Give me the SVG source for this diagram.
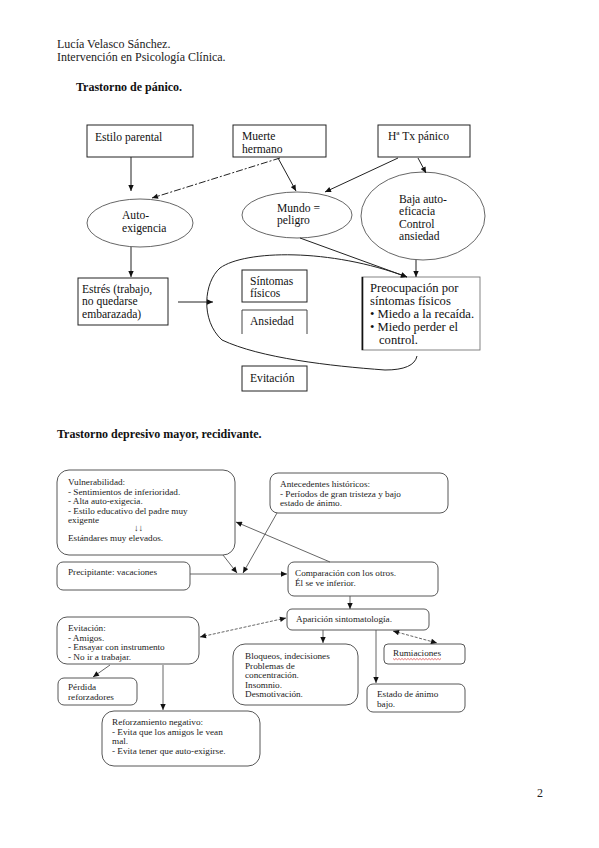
<svg xmlns="http://www.w3.org/2000/svg" width="599" height="848" viewBox="0 0 599 848">
<style>
text{font-family:"Liberation Serif","Times New Roman",serif;fill:#111}
.t1{font-size:11.6px}
.t13{font-size:12.6px}
.t2{font-size:9.2px;fill:#222}
.h{font-size:12px;fill:#222}
.b{font-size:12px;font-weight:bold}
.box{fill:#fff;stroke:#222;stroke-width:1}
.ell{fill:#fff;stroke:#555;stroke-width:0.9}
.rb{fill:#fff;stroke:#444;stroke-width:0.9}
.c1{fill:none;stroke:#222;stroke-width:1}
.c2{fill:none;stroke:#555;stroke-width:0.9}
</style>
<defs>
<marker id="a" viewBox="0 0 10 10" refX="10" refY="5" markerWidth="7" markerHeight="6" markerUnits="userSpaceOnUse" orient="auto-start-reverse">
<path d="M0,0.5 L10,5 L0,9.5 z" fill="#111"/>
</marker>
</defs>
<rect width="599" height="848" fill="#fff"/>

<g id="header">
<text class="h" x="57" y="48">Lucía Velasco Sánchez.</text>
<text class="h" x="57" y="61">Intervención en Psicología Clínica.</text>
<text class="b" x="76" y="91">Trastorno de pánico.</text>
<text class="b" x="57" y="438">Trastorno depresivo mayor, recidivante.</text>
<text class="h" x="537" y="797">2</text>
</g>

<!-- Diagram 1 nodes -->
<g id="estilo"><rect class="box" x="87" y="125" width="106" height="32"/><text class="t1" x="95" y="141">Estilo parental</text></g>
<g id="muerte"><rect class="box" x="233" y="125" width="93" height="32"/><text class="t1" x="242" y="140">Muerte</text><text class="t1" x="242" y="152.5">hermano</text></g>
<g id="htx"><rect class="box" x="378" y="125" width="92" height="32"/><text class="t1" x="388" y="140">Hª Tx pánico</text></g>
<g id="auto"><ellipse class="ell" cx="140" cy="223" rx="53" ry="24"/><text class="t1" x="122" y="219">Auto-</text><text class="t1" x="122" y="232">exigencia</text></g>
<g id="mundo"><ellipse class="ell" cx="297" cy="215" rx="55" ry="23"/><text class="t1" x="277" y="211.5">Mundo =</text><text class="t1" x="277" y="224">peligro</text></g>
<g id="baja"><ellipse class="ell" cx="423" cy="216" rx="62" ry="44"/><text class="t1" x="399" y="202.5">Baja auto-</text><text class="t1" x="399" y="215">eficacia</text><text class="t1" x="399" y="227.5">Control</text><text class="t1" x="399" y="240">ansiedad</text></g>
<g id="estres"><rect class="box" x="78" y="278" width="90" height="47" stroke="#555"/><text class="t1" x="82" y="292.5">Estrés (trabajo,</text><text class="t1" x="82" y="305">no quedarse</text><text class="t1" x="82" y="317.5">embarazada)</text></g>
<g id="sintomas"><rect class="box" x="242" y="270" width="65" height="32" stroke="#444"/><text class="t1" x="250" y="284.5">Síntomas</text><text class="t1" x="250" y="297">físicos</text></g>
<g id="ansiedad"><path d="M242,334 V310 H307 V334" fill="none" stroke="#444"/><text class="t1" x="250" y="325">Ansiedad</text></g>
<g id="evitacion1"><rect class="box" x="242" y="366" width="65" height="25" stroke="#444"/><text class="t1" x="250" y="382">Evitación</text></g>
<g id="preocupacion"><rect x="362" y="277" width="118" height="73" fill="#fff" stroke="#777" stroke-width="0.9"/><line x1="362.5" y1="277" x2="362.5" y2="350" stroke="#111" stroke-width="1.6"/>
<text class="t13" x="370" y="291.5">Preocupación por</text>
<text class="t13" x="370" y="304.5">síntomas físicos</text>
<text class="t13" x="370" y="317.5">• Miedo a la recaída.</text>
<text class="t13" x="370" y="330.5">• Miedo perder el</text>
<text class="t13" x="379" y="343.5">control.</text></g>

<g id="connectors1">
<line class="c1" x1="131" y1="157" x2="131" y2="191" marker-end="url(#a)"/>
<line class="c1" x1="280" y1="158" x2="152" y2="198" stroke-dasharray="7 2 2 2" stroke="#444" marker-end="url(#a)"/>
<line class="c1" x1="278" y1="158" x2="296" y2="191" marker-end="url(#a)"/>
<line class="c1" x1="398" y1="158" x2="325" y2="192" marker-end="url(#a)"/>
<line class="c1" x1="418" y1="158" x2="426" y2="173" marker-end="url(#a)"/>
<line class="c1" x1="131" y1="247" x2="131" y2="277" marker-end="url(#a)"/>
<line class="c1" x1="178" y1="302" x2="213" y2="302" stroke="#777" marker-end="url(#a)"/>
<line class="c1" x1="300" y1="238" x2="407" y2="277" stroke="#333" marker-end="url(#a)"/>
<line class="c1" x1="416" y1="260" x2="416" y2="277" stroke="#555" marker-end="url(#a)"/>
<path class="c1" stroke="#444" d="M417,356 Q414,370 385,370 C330,366 260,358 222,340 C200,320 204,282 220,268 C245,250 330,248 407,277" marker-end="url(#a)"/>
</g>

<!-- Diagram 2 nodes -->
<g id="vulnerabilidad"><rect class="rb" x="57" y="470" width="178" height="85" rx="12"/>
<text class="t2" x="68" y="485">Vulnerabilidad:</text>
<text class="t2" x="68" y="494.5">- Sentimientos de inferioridad.</text>
<text class="t2" x="68" y="504">- Alta auto-exigecia.</text>
<text class="t2" x="68" y="513.5">- Estilo educativo del padre muy</text>
<text class="t2" x="68" y="523">exigente</text>
<text class="t2" x="134" y="531">↓↓</text>
<text class="t2" x="68" y="541">Estándares muy elevados.</text></g>
<g id="antecedentes"><rect class="rb" x="270" y="473" width="178" height="40" rx="8"/>
<text class="t2" x="280" y="487">Antecedentes históricos:</text>
<text class="t2" x="280" y="496.5">- Períodos de gran tristeza y bajo</text>
<text class="t2" x="280" y="506">estado de ánimo.</text></g>
<g id="precipitante"><rect class="rb" x="57" y="562" width="133" height="28" rx="6"/><text class="t2" x="68" y="575">Precipitante: vacaciones</text></g>
<g id="comparacion"><rect class="rb" x="288" y="562" width="150" height="34" rx="6"/><text class="t2" x="295" y="576">Comparación con los otros.</text><text class="t2" x="295" y="585.5">Él se ve inferior.</text></g>
<g id="aparicion"><rect class="rb" x="287" y="609" width="142" height="21" rx="5"/><text class="t2" x="296" y="622">Aparición sintomatología.</text></g>
<g id="evitacion2"><rect class="rb" x="57" y="617" width="142" height="47" rx="10"/>
<text class="t2" x="68" y="631">Evitación:</text>
<text class="t2" x="68" y="640.5">- Amigos.</text>
<text class="t2" x="68" y="650">- Ensayar con instrumento</text>
<text class="t2" x="68" y="659.5">- No ir a trabajar.</text></g>
<g id="perdida"><rect class="rb" x="58" y="678" width="79" height="27" rx="6"/><text class="t2" x="68" y="690">Pérdida</text><text class="t2" x="68" y="700">reforzadores</text></g>
<g id="bloqueos"><rect class="rb" x="233" y="644" width="125" height="61" rx="12"/>
<text class="t2" x="245" y="659">Bloqueos, indecisiones</text>
<text class="t2" x="245" y="668.5">Problemas de</text>
<text class="t2" x="245" y="678">concentración.</text>
<text class="t2" x="245" y="687.5">Insomnio.</text>
<text class="t2" x="245" y="697">Desmotivación.</text></g>
<g id="rumiaciones"><rect class="rb" x="384" y="644" width="81" height="20" rx="4"/><text class="t2" x="393" y="656">Rumiaciones</text>
<path d="M393,658.5 l1.5,1.2 l1.5,-1.2 l1.5,1.2 l1.5,-1.2 l1.5,1.2 l1.5,-1.2 l1.5,1.2 l1.5,-1.2 l1.5,1.2 l1.5,-1.2 l1.5,1.2 l1.5,-1.2 l1.5,1.2 l1.5,-1.2 l1.5,1.2 l1.5,-1.2 l1.5,1.2 l1.5,-1.2 l1.5,1.2 l1.5,-1.2 l1.5,1.2 l1.5,-1.2 l1.5,1.2 l1.5,-1.2 l1.5,1.2 l1.5,-1.2 l1.5,1.2 l1.5,-1.2 l1.5,1.2 l1.5,-1.2 l1.5,1.2 l1.5,-1.2" fill="none" stroke="#d33" stroke-width="0.7"/></g>
<g id="estado"><rect class="rb" x="367" y="684" width="98" height="28" rx="6"/><text class="t2" x="377" y="697">Estado de ánimo</text><text class="t2" x="377" y="706.5">bajo.</text></g>
<g id="reforzamiento"><rect class="rb" x="102" y="711" width="158" height="55" rx="12"/>
<text class="t2" x="112" y="725">Reforzamiento negativo:</text>
<text class="t2" x="112" y="734.5">- Evita que los amigos le vean</text>
<text class="t2" x="112" y="744">mal.</text>
<text class="t2" x="112" y="753.5">- Evita tener que auto-exigirse.</text></g>

<g id="connectors2">
<line class="c2" x1="223" y1="555" x2="237" y2="573" marker-end="url(#a)"/>
<line class="c2" x1="277" y1="513" x2="243" y2="573" marker-end="url(#a)"/>
<line class="c2" x1="330" y1="562" x2="236" y2="522" marker-end="url(#a)"/>
<line class="c2" x1="190" y1="574" x2="287" y2="574" stroke="#888" marker-end="url(#a)"/>
<line class="c2" x1="350" y1="596" x2="350" y2="609" marker-end="url(#a)"/>
<line class="c2" x1="323" y1="630" x2="323" y2="643" marker-end="url(#a)"/>
<line class="c2" x1="376" y1="630" x2="376" y2="683" stroke="#777" marker-end="url(#a)"/>
<line class="c2" x1="393" y1="631" x2="437" y2="643" stroke-dasharray="3 1.5" marker-start="url(#a)" marker-end="url(#a)"/>
<line class="c2" x1="286" y1="618" x2="200" y2="637" stroke-dasharray="3 1.5" marker-start="url(#a)" marker-end="url(#a)"/>
<line class="c2" x1="110" y1="665" x2="93" y2="677" marker-end="url(#a)"/>
<line class="c2" x1="163" y1="665" x2="163" y2="710" stroke="#888" marker-end="url(#a)"/>
</g>
</svg>
